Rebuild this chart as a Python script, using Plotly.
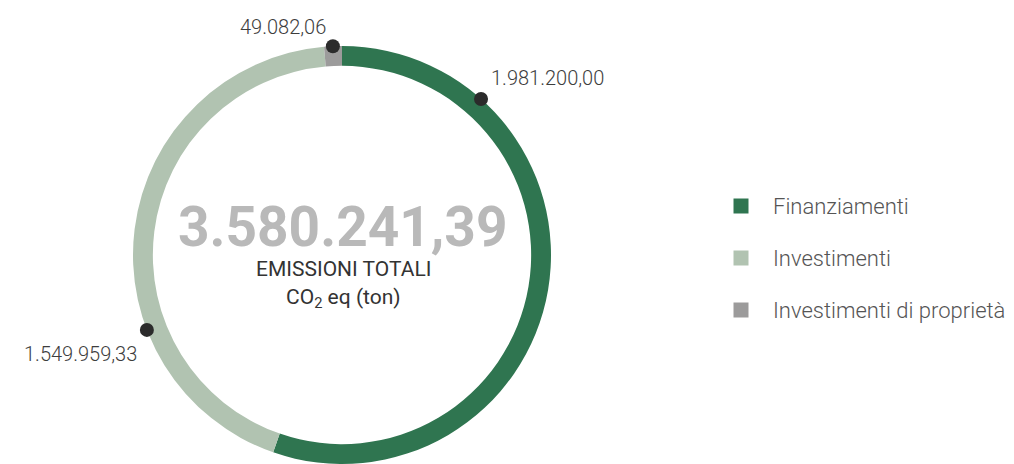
import math
import plotly.graph_objects as go

# Emissioni finanziate per categoria (t CO2 eq)
categorie = ["Finanziamenti", "Investimenti", "Investimenti di proprietà"]
emissioni = [1981200.00, 1549959.33, 49082.06]
colori = ["#2f7550", "#b1c3b1", "#9c9b9b"]

titolo_righe = ["EMISSIONI TOTALI", "CO<sub>2</sub> eq (ton)"]

W, H = 1014, 464
CX, CY, R = 342, 255, 209      # centro e raggio dell'anello (pixel)
HOLE = 0.905

# angolo (gradi, orario da ore 12) del punto di ancoraggio di ciascuna etichetta
angoli_etichetta = [41.7, 249.0, 357.5]
etichetta_pos = [
    dict(dx=8, dy=-21, xanchor="left"),
    dict(dx=-8, dy=24, xanchor="right"),
    dict(dx=-5, dy=-19, xanchor="right"),
]


def formato_it(v):
    s = f"{v:,.2f}"
    return s.replace(",", "X").replace(".", ",").replace("X", ".")


totale = sum(emissioni)

fig = go.Figure()

fig.add_trace(go.Pie(
    labels=categorie,
    values=emissioni,
    marker=dict(colors=colori, line=dict(width=0)),
    hole=HOLE,
    sort=False,
    direction="clockwise",
    rotation=0,
    textinfo="none",
    hoverinfo="label+value",
    showlegend=False,
    domain=dict(x=[(CX - R) / W, (CX + R) / W], y=[(H - CY - R) / H, (H - CY + R) / H]),
))

# punti di ancoraggio (sopra l'anello) ed etichette dei valori
shapes = []
annotations = []
for val, ang, pos in zip(emissioni, angoli_etichetta, etichetta_pos):
    a = math.radians(ang)
    x = CX + R * math.sin(a)
    y = CY - R * math.cos(a)
    shapes.append(dict(
        type="circle", layer="above", xref="x", yref="y",
        xsizemode="pixel", ysizemode="pixel", xanchor=x, yanchor=y,
        x0=-7, x1=7, y0=-7, y1=7,
        fillcolor="#2b2b2b", line=dict(width=0),
    ))
    annotations.append(dict(
        x=x + pos["dx"], y=y + pos["dy"], xref="x", yref="y",
        text=formato_it(val), showarrow=False,
        xanchor=pos["xanchor"], yanchor="middle",
        font=dict(family="Roboto", size=20, color="#3d3d3d", weight=300),
    ))

# legenda
LEG_X, LEG_Y0, LEG_DY = 741, 206, 52
fig.add_trace(go.Scatter(
    x=[LEG_X] * len(categorie),
    y=[LEG_Y0 + i * LEG_DY for i in range(len(categorie))],
    mode="markers",
    marker=dict(symbol="square", size=15, color=colori),
    hoverinfo="skip", showlegend=False,
))
for i, c in enumerate(categorie):
    annotations.append(dict(
        x=LEG_X + 30, y=LEG_Y0 + i * LEG_DY, xref="x", yref="y",
        text=c, showarrow=False, xanchor="left", yanchor="middle",
        font=dict(family="Roboto", size=22, color="#555555", weight=300),
    ))

# testo centrale
annotations.append(dict(
    x=CX, y=227, xref="x", yref="y", text=formato_it(totale), showarrow=False,
    xanchor="center", yanchor="middle",
    font=dict(family="Roboto", size=55, color="#b9b9b9", weight="bold"),
))
annotations.append(dict(
    x=CX + 1, y=269, xref="x", yref="y", text=titolo_righe[0], showarrow=False,
    xanchor="center", yanchor="middle",
    font=dict(family="Roboto", size=21, color="#333333"),
))
annotations.append(dict(
    x=CX + 1, y=298, xref="x", yref="y", text=titolo_righe[1], showarrow=False,
    xanchor="center", yanchor="middle",
    font=dict(family="Roboto", size=21, color="#333333"),
))

fig.update_layout(
    width=W, height=H,
    margin=dict(l=0, r=0, t=0, b=0),
    paper_bgcolor="white", plot_bgcolor="rgba(0,0,0,0)",
    xaxis=dict(range=[0, W], visible=False, fixedrange=True),
    yaxis=dict(range=[H, 0], visible=False, fixedrange=True),
    annotations=annotations,
    shapes=shapes,
    showlegend=False,
)

fig.write_html("out.html")
